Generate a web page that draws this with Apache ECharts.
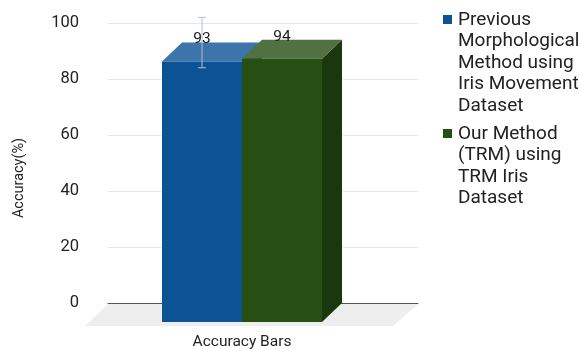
<!DOCTYPE html>
<html>
<head>
<meta charset="utf-8">
<style>html,body{margin:0;padding:0;background:#fff}#chart{width:580px;height:349px}</style>
<script src="https://cdn.jsdelivr.net/npm/echarts@6/dist/echarts.min.js"></script>
</head>
<body>
<div id="chart"></div>
<script>
const categories = ['Accuracy Bars'];
const methodNames = [
  'Previous\nMorphological\nMethod using\nIris Movement\nDataset',
  'Our Method\n(TRM) using\nTRM Iris\nDataset'
];
const accuracy = [93, 94];
const errorLow = [84];
const errorHigh = [102];
const yTicks = { min: 0, max: 100, interval: 20 };

const FONT = 'Roboto, sans-serif';
const BAR_W = 80, DX = 20, DY = 19;
const LINE_H = 21.5;
const faces = [
  { front: '#0b5394', top: '#3c75a9', side: '#08396a' },
  { front: '#274e13', top: '#527142', side: '#1b370d' }
];

// Legend swatch: a small square near the top of a tall invisible frame,
// so it lines up with the first line of a wrapped entry.
function swatch(h) {
  return 'path://M0 0H10V0H0Z M0 6H9V15H0Z M0 ' + h + 'H10V' + h + 'H0Z';
}

function legendFor(i, top, lines) {
  const h = lines * LINE_H;
  return {
    orient: 'vertical', left: 438, top, itemWidth: 10, itemHeight: h,
    selectedMode: false, icon: swatch(h), data: [methodNames[i]],
    textStyle: { fontFamily: FONT, fontSize: 19, lineHeight: LINE_H, color: '#222' }
  };
}

// Box drawn in oblique projection: the back face sits on the axis value.
function boxRenderer(i) {
  return function (params, api) {
    const v = api.value(1);
    const base = api.coord([0, 0]);
    const top = api.coord([0, v]);
    const x0 = base[0] - 1 + (i - 1) * BAR_W - DX;
    const x1 = x0 + BAR_W;
    const yTop = top[1] + DY, yBase = base[1] + DY;
    const c = faces[i];
    const poly = (pts, fill) => ({ type: 'polygon', shape: { points: pts }, style: { fill } });
    return {
      type: 'group',
      children: [
        poly([[x1, yTop], [x1 + DX, top[1]], [x1 + DX, base[1]], [x1, yBase]], c.side),
        poly([[x0, yTop], [x0 + DX, top[1]], [x1 + DX, top[1]], [x1, yTop]], c.top),
        poly([[x0, yTop], [x1, yTop], [x1, yBase], [x0, yBase]], c.front)
      ]
    };
  };
}

function floorRenderer(params, api) {
  const g = params.coordSys;
  const y = api.coord([0, 0])[1] + 1;
  const l = g.x, r = g.x + g.width;
  return {
    type: 'polygon',
    shape: { points: [[l, y], [r, y], [r - 25, y + 22], [l - 23, y + 22]] },
    style: { fill: '#eeeeee' }
  };
}

function errorRenderer(params, api) {
  const base = api.coord([0, 0]);
  const x = base[0] - 1 - BAR_W / 2 - DX;
  const lo = api.coord([0, api.value(1)])[1];
  const hi = api.coord([0, api.value(2)])[1];
  const seg = (x1, y1, x2, y2) => ({
    type: 'line',
    shape: { x1, y1, x2, y2 },
    style: { stroke: '#a9c0dc', lineWidth: 1 }
  });
  return {
    type: 'group',
    children: [seg(x, lo, x, hi), seg(x - 4, lo, x + 4, lo), seg(x - 4, hi, x + 4, hi)]
  };
}

function valueLabel(i) {
  return function (params, api) {
    const base = api.coord([0, 0]);
    const top = api.coord([0, api.value(1)]);
    return {
      type: 'text',
      x: base[0] - 1 + (i - 1) * BAR_W - DX + BAR_W / 2,
      y: top[1] - 3,
      style: {
        text: String(api.value(1)), fill: '#1a1a1a', font: '15.5px ' + FONT,
        align: 'center', verticalAlign: 'middle'
      }
    };
  };
}

const chart = echarts.init(document.getElementById('chart'), null, { renderer: 'canvas' });
chart.setOption({
  animation: false,
  backgroundColor: '#ffffff',
  grid: { left: 108, right: 162, top: 23, bottom: 46, outerBoundsMode: 'none' },
  legend: [legendFor(0, 4, 5), legendFor(1, 118, 4)],
  xAxis: {
    type: 'category', data: categories,
    axisLine: { show: true, lineStyle: { color: '#555555', width: 1 } },
    axisTick: { show: false },
    axisLabel: { margin: 31, color: '#222', fontFamily: FONT, fontSize: 15.5, padding: [0, 42, 0, 0] }
  },
  yAxis: {
    type: 'value', min: yTicks.min, max: yTicks.max, interval: yTicks.interval,
    name: 'Accuracy(%)', nameLocation: 'middle', nameGap: 81, nameRotate: 90,
    nameTextStyle: { color: '#222', fontFamily: FONT, fontSize: 14.5, padding: [0, 30, 0, 0] },
    axisLine: { show: false }, axisTick: { show: false },
    axisLabel: { margin: 29, color: '#222', fontFamily: FONT, fontSize: 16.5, padding: [2, 0, 0, 0] },
    splitLine: { lineStyle: { color: '#e6e6e6', width: 1 } }
  },
  series: [
    { type: 'custom', silent: true, renderItem: floorRenderer, data: [[0, 0]], z: 1, legendHoverLink: false },
    { type: 'custom', name: methodNames[0], renderItem: boxRenderer(0), data: [[0, accuracy[0]]], itemStyle: { color: faces[0].front }, z: 3 },
    { type: 'custom', silent: true, renderItem: errorRenderer, data: [[0, errorLow[0], errorHigh[0]]], z: 4 },
    { type: 'custom', name: methodNames[1], renderItem: boxRenderer(1), data: [[0, accuracy[1]]], itemStyle: { color: faces[1].front }, z: 5 },
    { type: 'custom', silent: true, renderItem: valueLabel(0), data: [[0, accuracy[0]]], z: 6 },
    { type: 'custom', silent: true, renderItem: valueLabel(1), data: [[0, accuracy[1]]], z: 6 }
  ]
});
</script>
</body>
</html>
